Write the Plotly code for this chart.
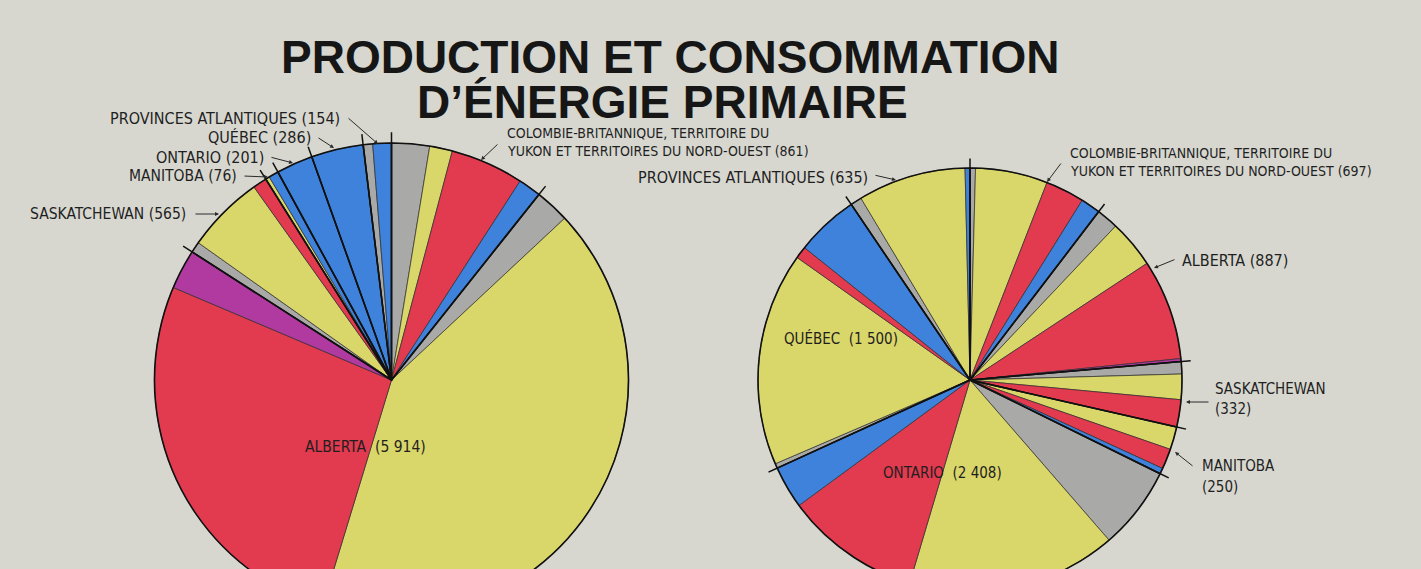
import plotly.graph_objects as go

W, H = 1421, 650  # figure taller than the window: the pies run past the bottom edge

provinces = [
    "Colombie-Britannique, Yukon et T.N.-O.",
    "Alberta",
    "Saskatchewan",
    "Manitoba",
    "Ontario",
    "Québec",
    "Provinces atlantiques",
]
prod_totals = [861, 5914, 565, 76, 201, 286, 154]
cons_totals = [697, 887, 332, 250, 2408, 1500, 635]

source_colors = {
    "Charbon": "#A9AAA7",
    "Pétrole": "#D9D66A",
    "Gaz naturel": "#E23A4F",
    "Hydroélectricité": "#3E82DB",
    "Autres": "#B13AA0",
}

# Production: segments per province (clockwise from 12 o'clock)
prod_seg_province = [0, 0, 0, 0, 1, 1, 1, 1, 2, 2, 2, 3, 3, 4, 5, 6, 6]
prod_seg_source = [
    "Charbon", "Pétrole", "Gaz naturel", "Hydroélectricité",
    "Charbon", "Pétrole", "Gaz naturel", "Autres",
    "Charbon", "Pétrole", "Gaz naturel",
    "Pétrole", "Hydroélectricité",
    "Hydroélectricité",
    "Hydroélectricité",
    "Charbon", "Hydroélectricité",
]
prod_seg_values = [208, 125, 403, 125, 190, 3357, 2149, 218, 60, 428, 77, 22, 54, 201, 286, 52, 102]

# Consommation
cons_seg_province = [0, 0, 0, 0, 1, 1, 1, 1, 2, 2, 2, 3, 3, 3, 4, 4, 4, 4, 5, 5, 5, 5, 6, 6, 6]
cons_seg_source = [
    "Charbon", "Pétrole", "Gaz naturel", "Hydroélectricité",
    "Charbon", "Pétrole", "Gaz naturel", "Autres",
    "Charbon", "Pétrole", "Gaz naturel",
    "Pétrole", "Gaz naturel", "Hydroélectricité",
    "Charbon", "Pétrole", "Gaz naturel", "Hydroélectricité",
    "Charbon", "Pétrole", "Gaz naturel", "Hydroélectricité",
    "Charbon", "Pétrole", "Hydroélectricité",
]
cons_seg_values = [28, 369, 199, 101, 112, 246, 514, 15, 63, 130, 139, 117, 104, 29,
                   425, 1072, 693, 218, 24, 1092, 62, 322, 58, 552, 25]

BG = "#D7D7CF"
FONT = "Liberation Sans Narrow, Arial Narrow, DejaVu Sans Condensed, sans-serif"
TXT = "#1f1f1f"
EXT = 1.045  # province ticks reach slightly past the rim


def dom(cx, cy, r):
    return dict(x=[(cx - r) / W, (cx + r) / W], y=[(H - (cy + r)) / H, (H - (cy - r)) / H])


def px(x, y):
    return x / W, (H - y) / H


PIES = {
    "left": (391.5, 380, 237),
    "right": (970, 380, 212),
}

fig = go.Figure()


def add_pie(prov_idx, srcs, vals, totals, geom, tag, polar_id):
    cx, cy, r = geom
    domain = dom(cx, cy, r)
    fig.add_trace(go.Pie(
        values=vals,
        labels=[f"{tag} — {provinces[p]} — {s}" for p, s in zip(prov_idx, srcs)],
        marker=dict(colors=[source_colors[s] for s in srcs], line=dict(color="#2e2e2e", width=0.7)),
        sort=False, direction="clockwise", rotation=0, textinfo="none",
        hoverinfo="label+value", domain=domain, showlegend=False,
    ))
    fig.add_trace(go.Pie(
        values=totals,
        labels=[f"{tag} — {p}" for p in provinces],
        marker=dict(colors=["rgba(0,0,0,0)"] * len(totals), line=dict(color="#111111", width=1.6)),
        sort=False, direction="clockwise", rotation=0, textinfo="none",
        hoverinfo="skip", domain=domain, showlegend=False,
    ))
    # short ticks at province boundaries, just outside the rim
    total = sum(totals)
    acc = 0
    rr, tt = [], []
    for v in totals:
        acc += v
        ang = acc / total * 360
        rr += [0.99, EXT, None]
        tt += [ang, ang, None]
    fig.add_trace(go.Scatterpolar(
        r=rr, theta=tt, mode="lines", line=dict(color="#111111", width=1.5),
        subplot=polar_id, hoverinfo="skip", showlegend=False,
    ))
    fig.layout[polar_id] = dict(
        domain=dom(cx, cy, r * 1.06), bgcolor="rgba(0,0,0,0)",
        angularaxis=dict(visible=False, rotation=90, direction="clockwise"),
        radialaxis=dict(visible=False, range=[0, 1.06]),
    )


add_pie(prod_seg_province, prod_seg_source, prod_seg_values, prod_totals, PIES["left"], "Production", "polar")
add_pie(cons_seg_province, cons_seg_source, cons_seg_values, cons_totals, PIES["right"], "Consommation", "polar2")

ann = []


def text(t, x, y, anchor, size=16):
    X, Y = px(x, y)
    ann.append(dict(text=t, x=X, y=Y, xref="paper", yref="paper", showarrow=False,
                    xanchor=anchor, yanchor="middle", align=anchor if anchor != "center" else "center",
                    font=dict(family=FONT, size=size, color=TXT)))


def arrow(x0, y0, x1, y1):
    X, Y = px(x1, y1)
    ann.append(dict(text="", x=X, y=Y, xref="paper", yref="paper", showarrow=True,
                    ax=x0 - x1, ay=y0 - y1, arrowhead=2, arrowsize=0.8, arrowwidth=1,
                    arrowcolor="#2a2a2a", standoff=0))


# title
TFONT = dict(family="Liberation Sans, Arial, sans-serif", size=46, color="#161616")
ann.append(dict(text="<b>PRODUCTION ET CONSOMMATION</b>", x=px(670, 0)[0], y=px(0, 57)[1],
                xref="paper", yref="paper", showarrow=False, xanchor="center", yanchor="middle",
                font=TFONT))
ann.append(dict(text="<b>D’ÉNERGIE PRIMAIRE</b>", x=px(662, 0)[0], y=px(0, 102)[1],
                xref="paper", yref="paper", showarrow=False, xanchor="center", yanchor="middle",
                font=TFONT))

# left pie labels
text(f"PROVINCES ATLANTIQUES ({prod_totals[6]})", 342, 118, "right")
arrow(347, 117, 378, 144)
text(f"QUÉBEC ({prod_totals[5]})", 313, 137, "right")
arrow(317, 137, 334, 148)
text(f"ONTARIO ({prod_totals[4]})", 266, 157, "right")
arrow(270, 157, 293, 163)
text(f"MANITOBA ({prod_totals[3]})", 239, 176, "right", 15.5)
arrow(243, 176, 268, 177)
text(f"SASKATCHEWAN ({prod_totals[2]})", 188, 214, "right", 15.5)
arrow(194, 214, 219, 214)
text("COLOMBIE-BRITANNIQUE, TERRITOIRE DU", 505, 133, "left", 14)
text(f"YUKON ET TERRITOIRES DU NORD-OUEST ({prod_totals[0]})", 505, 151, "left", 14)
arrow(499, 143, 481, 160)
text("ALBERTA  (5 914)", 303, 447, "left", 15.5)

# right pie labels
text(f"PROVINCES ATLANTIQUES ({cons_totals[6]})", 870, 177, "right")
arrow(874, 175, 896, 180)
text("COLOMBIE-BRITANNIQUE, TERRITOIRE DU", 1068, 153, "left", 14)
text(f"YUKON ET TERRITOIRES DU NORD-OUEST ({cons_totals[0]})", 1068, 171, "left", 14)
arrow(1062, 162, 1047, 182)
text(f"ALBERTA ({cons_totals[1]})", 1180, 260, "left")
arrow(1176, 259, 1154, 268)
text("SASKATCHEWAN", 1213, 389, "left", 15)
text(f"({cons_totals[2]})", 1213, 409, "left", 15)
arrow(1210, 402, 1186, 402)
text("MANITOBA", 1200, 466, "left", 15)
text(f"({cons_totals[3]})", 1200, 487, "left", 15)
arrow(1194, 467, 1175, 452)
text("QUÉBEC  (1 500)", 782, 338, "left", 15)
text("ONTARIO  (2 408)", 881, 473, "left", 15)

fig.update_layout(
    width=W, height=H,
    margin=dict(l=0, r=0, t=0, b=0),
    paper_bgcolor=BG, plot_bgcolor=BG,
    annotations=ann,
    showlegend=False,
)

fig.write_html(
    "out.html",
    config={"displayModeBar": False},
    post_script="document.body.style.margin='0';document.body.style.overflow='hidden';",
)
